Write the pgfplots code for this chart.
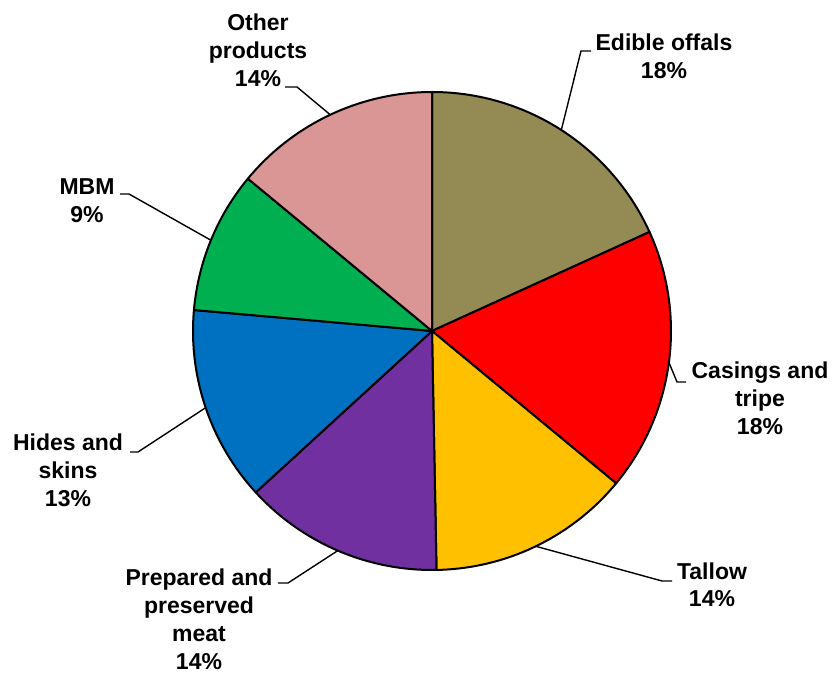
\documentclass[border=0pt]{standalone}
\usepackage{fontspec}
\setmainfont{Liberation Sans}
\usepackage{pgfplots}
\usepackage{pgfplotstable}
\pgfplotsset{compat=1.18}

\definecolor{c0}{HTML}{948A54}
\definecolor{c1}{HTML}{FF0000}
\definecolor{c2}{HTML}{FFC000}
\definecolor{c3}{HTML}{7030A0}
\definecolor{c4}{HTML}{0070C0}
\definecolor{c5}{HTML}{00B050}
\definecolor{c6}{HTML}{D99694}

% slice values (percent), leader elbow (ex,ey) and end x (hx) in pixel coordinates (y downwards)
\pgfplotstableread{
name     value ex  ey  hx
Edible   18.2  581 51  591
Casings  17.8  677 382 686
Tallow   13.7  662 581 672
Prepared 13.5  288 583 278
Hides    13.2  138 452 130
MBM      9.6   129 194 120
Other    14.0  297 87  285
}\piedata

\begin{document}
\begin{tikzpicture}
\def\cum{90}
\pgfplotsforeachungrouped \i in {0,...,6}{%
  \pgfplotstablegetelem{\i}{value}\of\piedata
  \pgfmathsetmacro\sa{\cum}%
  \pgfmathsetmacro\sb{\cum-3.6*\pgfplotsretval}%
  \pgfmathsetmacro\sm{(\sa+\sb)/2}%
  \expandafter\xdef\csname sa\i\endcsname{\sa}%
  \expandafter\xdef\csname sb\i\endcsname{\sb}%
  \expandafter\xdef\csname sm\i\endcsname{\sm}%
  \xdef\cum{\sb}%
  \pgfplotstablegetelem{\i}{ex}\of\piedata
  \expandafter\xdef\csname ex\i\endcsname{\pgfplotsretval}%
  \pgfplotstablegetelem{\i}{ey}\of\piedata
  \pgfmathsetmacro\tmp{675-\pgfplotsretval}%
  \expandafter\xdef\csname ey\i\endcsname{\tmp}%
  \pgfplotstablegetelem{\i}{hx}\of\piedata
  \expandafter\xdef\csname hx\i\endcsname{\pgfplotsretval}%
}
\begin{axis}[
  width=418pt, height=337.5pt, scale only axis,
  xmin=0, xmax=836, ymin=0, ymax=675,
  hide axis, clip=false,
]
\pgfplotsinvokeforeach{0,...,6}{
  \filldraw[fill=c#1, draw=black, line width=1pt, line join=round]
    (axis cs:432,344) -- (axis cs:{432+239*cos(\csname sa#1\endcsname)},{344+239*sin(\csname sa#1\endcsname)})
    arc[start angle=\csname sa#1\endcsname, end angle=\csname sb#1\endcsname, radius=119.5pt] -- cycle;
  \draw[black, line width=0.7pt]
    (axis cs:{432+239*cos(\csname sm#1\endcsname)},{344+239*sin(\csname sm#1\endcsname)})
    -- (axis cs:\csname ex#1\endcsname,\csname ey#1\endcsname)
    -- (axis cs:\csname hx#1\endcsname,\csname ey#1\endcsname);
}
\tikzset{lab/.style={align=center, anchor=base, inner sep=0pt,
  font=\fontsize{11.5}{14}\selectfont\bfseries}}
\node[lab] at (axis cs:664,596) {Edible offals\\18\%};
\node[lab] at (axis cs:760,240) {Casings and\\tripe\\18\%};
\node[lab] at (axis cs:712,68) {Tallow\\14\%};
\node[lab] at (axis cs:199,5) {Prepared and\\preserved\\meat\\14\%};
\node[lab] at (axis cs:68,168) {Hides and\\skins\\13\%};
\node[lab] at (axis cs:87,452) {MBM\\9\%};
\node[lab] at (axis cs:258,588) {Other\\products\\14\%};
\end{axis}
\pgfresetboundingbox
\path (current axis.south west) rectangle (current axis.north east);
\end{tikzpicture}
\end{document}
